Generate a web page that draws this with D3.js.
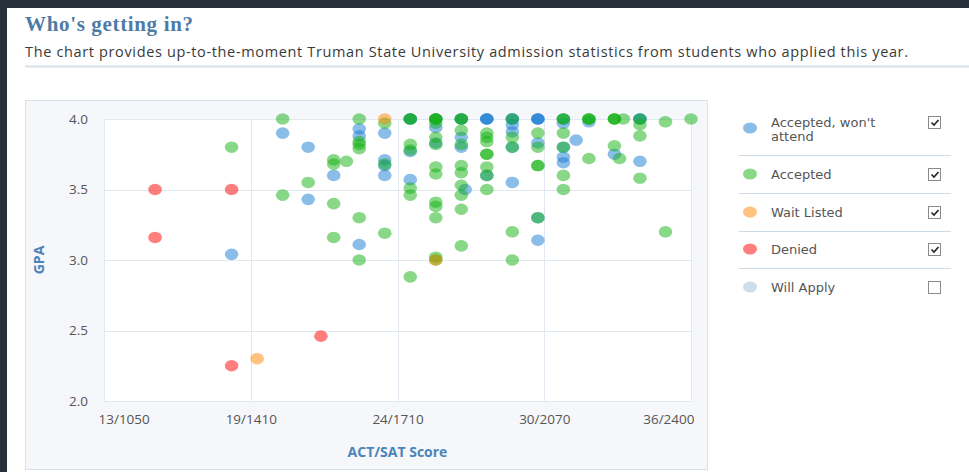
<!DOCTYPE html>
<html>
<head>
<meta charset="utf-8">
<script src="https://cdn.jsdelivr.net/npm/d3@7"></script>
<style>
    body { margin: 0; background: #ffffff; }
    svg { display: block; }
</style>
</head>
<body>
<svg id="svg-main" width="969" height="472"></svg>
<script>
var seriesNames = ["Accepted, won't attend", "Accepted", "Wait Listed", "Denied", "Will Apply"];
var seriesColors = ["#177bd3", "#11b111", "#ff8500", "#ff0000", "#9fbbd3"];
var seriesVisible = [true, true, true, true, false];

var xTickLabels = ["13/1050", "19/1410", "24/1710", "30/2070", "36/2400"];
var yTicks = [2.0, 2.5, 3.0, 3.5, 4.0];

// [ACT, GPA]
var wontAttend = [
    [18, 3.04], [20, 3.9], [21, 3.8], [21, 3.43], [22, 3.6], [23, 3.93], [23, 3.88], [23, 3.11],
    [24, 3.9], [24, 3.71], [24, 3.67], [24, 3.6], [25, 4.0], [25, 4.0], [25, 3.77], [25, 3.57],
    [26, 4.0], [26, 3.94], [26, 3.83], [27, 4.0], [27, 4.0], [27, 3.87], [27, 3.8], [27.15, 3.5],
    [28, 4.0], [28, 4.0], [28, 4.0], [28, 3.6], [29, 4.0], [29, 4.0], [29, 3.96], [29, 3.91],
    [29, 3.8], [29, 3.55], [30, 4.0], [30, 4.0], [30, 4.0], [30, 3.83], [30, 3.3], [30, 3.14],
    [31, 4.0], [31, 3.97], [31, 3.8], [31, 3.73], [31, 3.69], [31.5, 3.85], [32, 3.98],
    [33, 3.75], [34, 4.0], [34, 4.0], [34, 3.7]
];
var accepted = [
    [18, 3.8], [20, 4.0], [20, 3.46], [21, 3.55], [22, 3.71], [22, 3.68], [22, 3.4], [22, 3.16],
    [22.5, 3.7], [23, 4.0], [23, 3.84], [23, 3.82], [23, 3.79], [23, 3.3], [23, 3.0],
    [24, 3.97], [24, 3.68], [24, 3.19], [25, 4.0], [25, 4.0], [25, 3.82], [25, 3.78],
    [25, 3.51], [25, 3.46], [25, 2.88], [26, 4.0], [26, 4.0], [26, 4.0], [26, 3.97], [26, 3.87],
    [26, 3.82], [26, 3.66], [26, 3.61], [26, 3.41], [26, 3.38], [26, 3.3], [26, 3.02], [26, 3.0],
    [27, 4.0], [27, 4.0], [27, 3.92], [27, 3.82], [27, 3.67], [27, 3.62], [27, 3.53], [27, 3.46],
    [27, 3.36], [27, 3.1], [28, 3.9], [28, 3.87], [28, 3.84], [28, 3.75], [28, 3.75], [28, 3.66],
    [28, 3.6], [28, 3.5], [29, 4.0], [29, 3.87], [29, 3.8], [29, 3.2], [29, 3.0], [30, 3.9],
    [30, 3.8], [30, 3.67], [30, 3.67], [30, 3.3], [31, 4.0], [31, 4.0], [31, 3.9], [31, 3.8],
    [31, 3.6], [31, 3.5], [32, 4.0], [32, 4.0], [32, 4.0], [32, 3.72], [33, 4.0], [33, 4.0],
    [33, 4.0], [33.35, 4.0], [33, 3.81], [33.2, 3.72], [34, 4.0], [34, 3.96], [34, 3.88],
    [34, 3.58], [35, 3.98], [35, 3.2], [36, 4.0]
];
var waitListed = [[19, 2.3], [24, 4.0], [26, 3.0]];
var denied = [[15, 3.5], [15, 3.16], [18, 3.5], [18, 2.25], [21.5, 2.46]];
var willApply = [];

var seriesData = [wontAttend, accepted, waitListed, denied, willApply];

function draw() {
    var svg = d3.select("svg");
    var font = "'Open Sans', sans-serif";

    // page frame
    svg.append("rect").attr("width", 969).attr("height", 472).attr("fill", "#28313a");
    svg.append("rect").attr("x", 7).attr("y", 8).attr("width", 962).attr("height", 464).attr("fill", "#ffffff");

    svg.append("text")
        .attr("x", 25).attr("y", 31)
        .attr("font-family", "'Liberation Serif', serif")
        .attr("font-weight", "bold")
        .attr("font-size", 21)
        .attr("textLength", 168)
        .attr("fill", "#4d7ba6")
        .text("Who's getting in?");

    svg.append("text")
        .attr("x", 25).attr("y", 57)
        .attr("font-family", font)
        .attr("font-size", 14.5)
        .attr("textLength", 883)
        .attr("fill", "#3a3a3a")
        .text("The chart provides up-to-the-moment Truman State University admission statistics from students who applied this year.");

    svg.append("line")
        .attr("x1", 25).attr("x2", 969).attr("y1", 66.5).attr("y2", 66.5)
        .attr("stroke", "#d6e1eb").attr("stroke-width", 2);

    svg.append("rect")
        .attr("x", 25.5).attr("y", 100.5).attr("width", 682).attr("height", 369)
        .attr("fill", "#f5f7fa").attr("stroke", "#d9e2ec");

    var x = d3.scaleLinear().domain([13, 36]).range([104, 691]);
    var y = d3.scaleLinear().domain([2, 4]).range([401, 119]);
    var xTicks = xTickLabels.map(function (d, i) {
        return 13 + i * (36 - 13) / (xTickLabels.length - 1);
    });

    svg.append("rect")
        .attr("x", x(13)).attr("y", y(4))
        .attr("width", x(36) - x(13)).attr("height", y(2) - y(4))
        .attr("fill", "#ffffff");

    var grid = svg.append("g").attr("stroke", "#e1e8f0").attr("stroke-width", 1);
    grid.selectAll(".h").data(yTicks).enter().append("line")
        .attr("x1", x(13)).attr("x2", x(36))
        .attr("y1", function (d) { return Math.round(y(d)) + 0.5; })
        .attr("y2", function (d) { return Math.round(y(d)) + 0.5; });
    grid.selectAll(".v").data(xTicks).enter().append("line")
        .attr("y1", y(4)).attr("y2", y(2))
        .attr("x1", function (d) { return Math.round(x(d)) + 0.5; })
        .attr("x2", function (d) { return Math.round(x(d)) + 0.5; });

    var xAxis = svg.append("g")
        .attr("transform", "translate(0," + y(2) + ")")
        .call(d3.axisBottom(x).tickValues(xTicks).tickSize(0).tickPadding(13)
            .tickFormat(function (d, i) { return xTickLabels[i]; }));
    xAxis.select(".domain").remove();
    xAxis.selectAll("text")
        .attr("font-family", font).attr("font-size", 13.5).attr("fill", "#555555")
        .attr("text-anchor", function (d, i) {
            if (i === 0) return "start";
            if (i === xTicks.length - 1) return "end";
            return "middle";
        })
        .attr("dx", function (d, i) {
            if (i === 0) return -6;
            if (i === xTicks.length - 1) return 3;
            return 0;
        });

    var yAxis = svg.append("g")
        .attr("transform", "translate(" + x(13) + ",0)")
        .call(d3.axisLeft(y).tickValues(yTicks).tickSize(0).tickPadding(16)
            .tickFormat(d3.format(".1f")));
    yAxis.select(".domain").remove();
    yAxis.selectAll("text")
        .attr("font-family", font).attr("font-size", 13.5).attr("fill", "#555555");

    svg.append("text")
        .attr("x", (x(13) + x(36)) / 2).attr("y", 457)
        .attr("text-anchor", "middle")
        .attr("font-family", font).attr("font-weight", "bold").attr("font-size", 14)
        .attr("fill", "#4a84b8")
        .text("ACT/SAT Score");

    svg.append("text")
        .attr("transform", "translate(44," + ((y(2) + y(4)) / 2) + ") rotate(-90)")
        .attr("text-anchor", "middle")
        .attr("font-family", font).attr("font-weight", "bold").attr("font-size", 14)
        .attr("fill", "#4a84b8")
        .text("GPA");

    seriesData.forEach(function (data, i) {
        if (!seriesVisible[i]) return;
        svg.append("g")
            .selectAll("ellipse")
            .data(data)
            .enter().append("ellipse")
            .attr("cx", function (d) { return x(d[0]); })
            .attr("cy", function (d) { return y(d[1]); })
            .attr("rx", 6.8)
            .attr("ry", 5.8)
            .attr("fill", seriesColors[i])
            .attr("fill-opacity", 0.5);
    });

    // legend
    var rowY = [128, 174, 212, 249, 287];
    var legend = svg.append("g").attr("font-family", "'DejaVu Sans', sans-serif").attr("font-size", 13);

    seriesNames.forEach(function (name, i) {
        var cy = rowY[i];
        legend.append("ellipse")
            .attr("cx", 750).attr("cy", cy).attr("rx", 7).attr("ry", 5.5)
            .attr("fill", seriesColors[i]).attr("fill-opacity", 0.5);

        var textY = cy;
        if (i === 0) {
            legend.append("text").attr("x", 771).attr("y", 122).attr("dy", "0.35em")
                .attr("fill", "#555555").text("Accepted, won't");
            legend.append("text").attr("x", 771).attr("y", 136.5).attr("dy", "0.35em")
                .attr("fill", "#555555").text("attend");
            textY = 122;
        } else {
            legend.append("text").attr("x", 771).attr("y", cy).attr("dy", "0.35em")
                .attr("fill", "#555555").text(name);
        }

        legend.append("rect")
            .attr("x", 928.5).attr("y", textY - 5.5).attr("width", 12).attr("height", 12)
            .attr("fill", "#ffffff").attr("stroke", "#8a8a8a");
        legend.append("path")
            .attr("d", "M" + 931.5 + "," + (textY + 0.5) + "l2.5,2.5l4.5,-5")
            .attr("fill", "none").attr("stroke", "#222222").attr("stroke-width", 1.6)
            .attr("display", seriesVisible[i] ? null : "none");

        if (i < seriesNames.length - 1) {
            var sepY = Math.round((cy + rowY[i + 1]) / 2 + (i === 0 ? 4 : 0)) + 0.5;
            legend.append("line")
                .attr("x1", 739).attr("x2", 951).attr("y1", sepY).attr("y2", sepY)
                .attr("stroke", "#cfdbe6");
        }
    });
}

draw();
</script>
</body>
</html>
